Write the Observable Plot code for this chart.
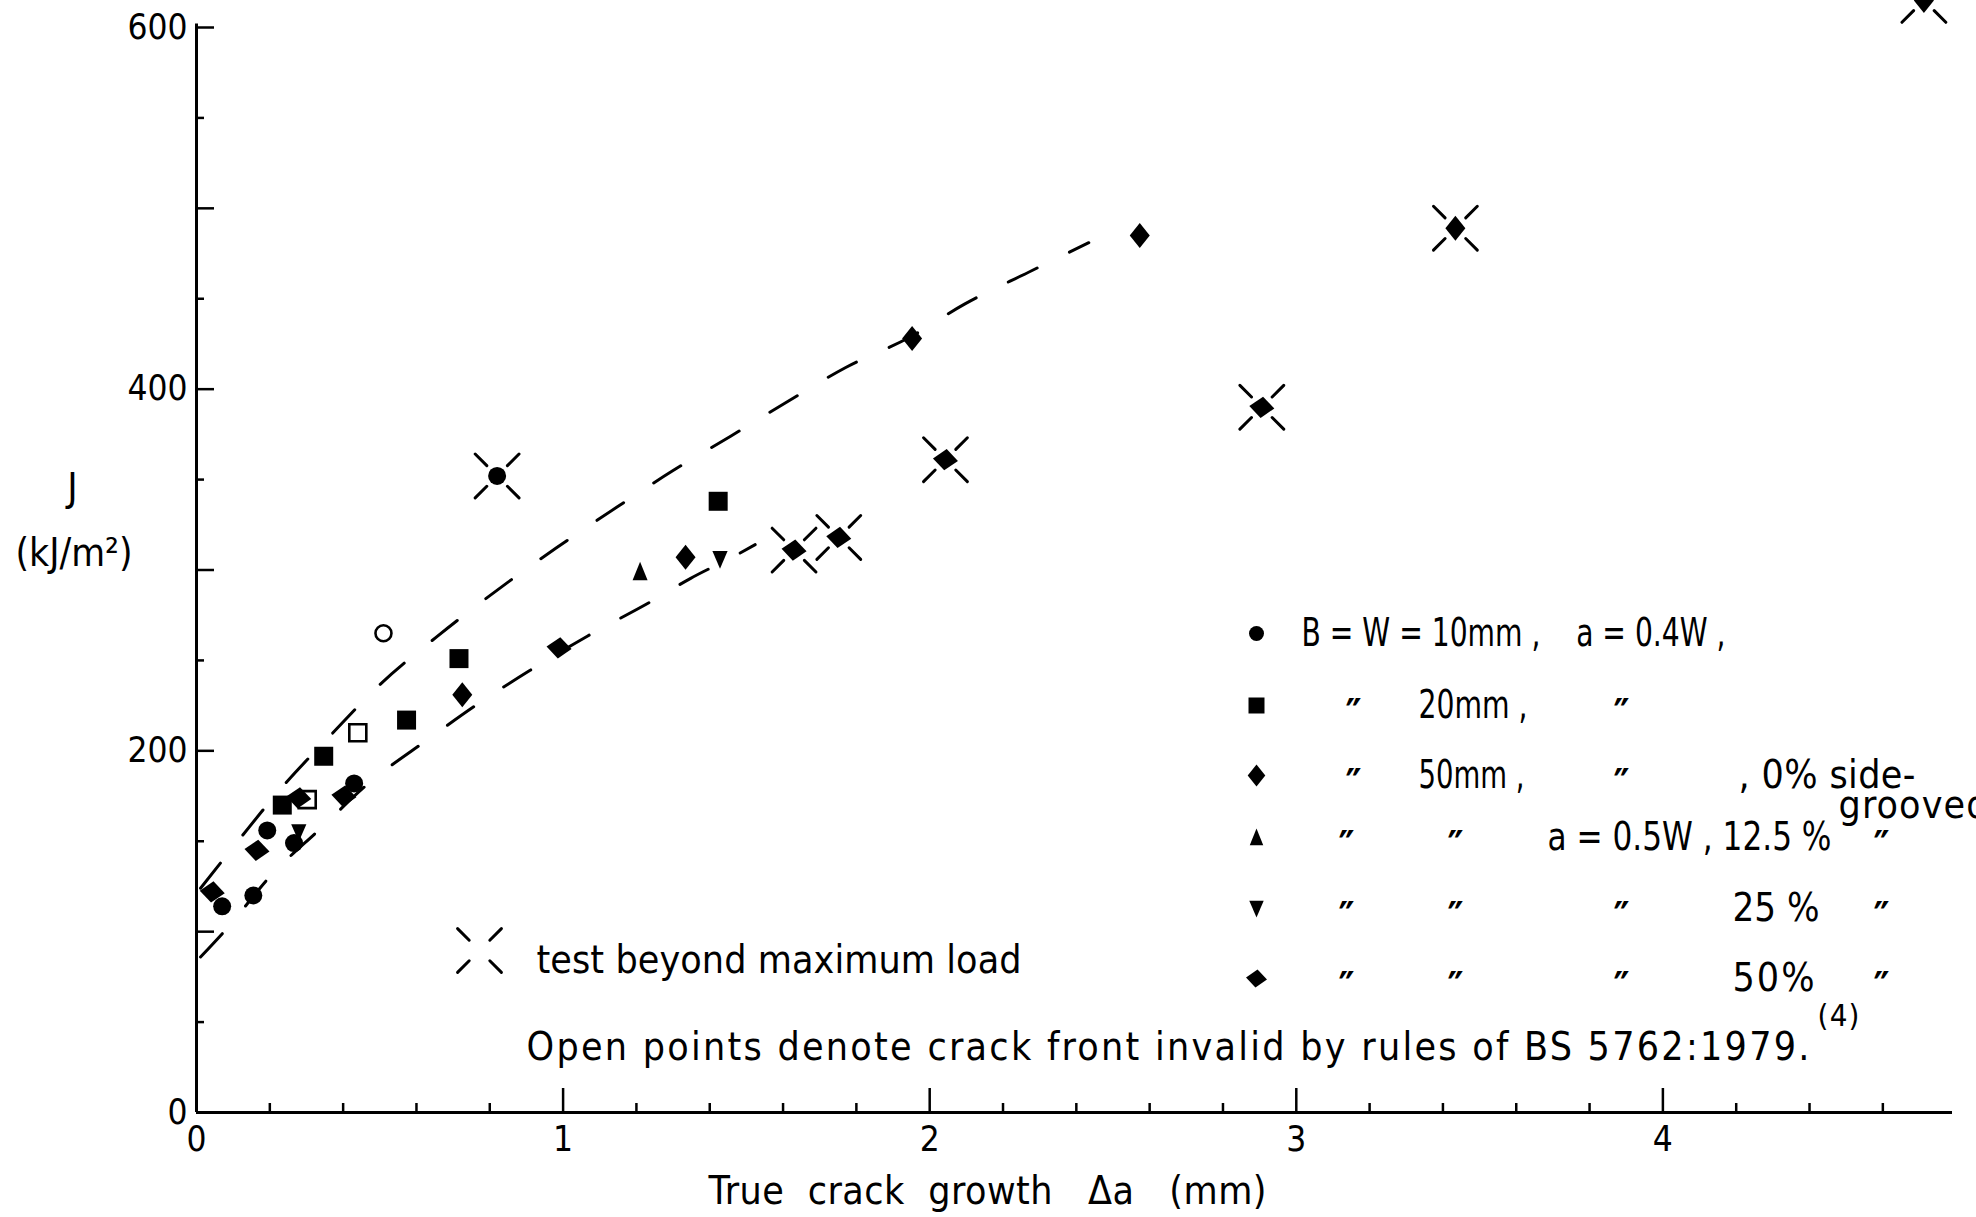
<!DOCTYPE html>
<html>
<head>
<meta charset="utf-8">
<script src="https://cdn.jsdelivr.net/npm/d3@7"></script>
<script src="https://cdn.jsdelivr.net/npm/@observablehq/plot@0.6"></script>
<style>
  html, body { margin: 0; padding: 0; background: #fff; }
  #chart { width: 1976px; height: 1217px; overflow: hidden; }
  #chart svg { display: block; }
  #chart text { white-space: pre; }
</style>
</head>
<body>
<div id="chart"></div>
<script>
// ---------------- data ----------------
// each point: [Δa (mm), J (kJ/m²)]
const xTickValues = [0, 1, 2, 3, 4];
const yTickValues = [0, 200, 400, 600];
const xMinorTicks = [0.2, 0.4, 0.6, 0.8, 1.2, 1.4, 1.6, 1.8, 2.2, 2.4, 2.6, 2.8, 3.2, 3.4, 3.6, 3.8, 4.2, 4.4, 4.6];
const yMinorTicks = [50, 150, 250, 350, 450, 550];
const yMidTicks = [100, 200, 300, 400, 500, 600];

const b10Filled = [[0.070, 114], [0.155, 120], [0.193, 156], [0.266, 149], [0.430, 182], [0.820, 352]];
const b10Open = [[0.510, 265]];
const b20Filled = [[0.234, 170], [0.347, 197], [0.573, 217], [0.716, 251], [1.423, 338]];
const b20Open = [[0.302, 173], [0.440, 210]];
const b50Groove0 = [[0.725, 231], [1.334, 307], [1.952, 428], [2.573, 485], [3.434, 489], [4.712, 615]];
const b50Groove125 = [[1.210, 299]];
const b50Groove25 = [[0.279, 155], [1.428, 306]];
const b50Groove50 = [[0.043, 122], [0.165, 145], [0.279, 174], [0.402, 175], [0.989, 257], [1.630, 311], [1.752, 318], [2.043, 361], [2.906, 390]];
const beyondMaxLoad = [[0.820, 352], [1.630, 311], [1.752, 318], [2.043, 361], [2.906, 390], [3.434, 489], [4.712, 615]];

const upperBound = [[0.011, 124], [0.097, 146], [0.234, 180], [0.370, 209.5], [0.497, 236], [0.655, 263], [0.848, 293], [0.980, 312], [1.145, 334.5], [1.300, 355], [1.457, 374], [1.607, 392.5], [1.771, 412], [1.948, 429], [2.095, 447], [2.278, 465.5], [2.434, 481]];
const lowerBound = [[0.011, 86], [0.084, 102], [0.200, 130.4], [0.338, 157], [0.475, 183], [0.629, 206], [0.768, 226], [0.909, 244.4], [1.066, 263.4], [1.240, 282.6], [1.348, 295.4], [1.470, 308], [1.524, 314]];

const legendLabels = [
  "B = W = 10mm ,    a = 0.4W ,", "20mm ,", "50mm ,", ", 0% side-", "grooved",
  "a = 0.5W , 12.5 %", "25 %", "50%"
];
const dittoMark = "″";
const crossLabel = "test beyond maximum load";
const noteLabel = "Open points denote crack front invalid by rules of BS 5762:1979.";
const noteRef = "(4)";
const yLabelTop = "J";
const yLabelUnit = "(kJ/m²)";
const xLabel = "True  crack  growth   Δa   (mm)";

// ---------------- layout ----------------
const W = 1976, H = 1217, ML = 196, MR = 24, MT = 27, MB = 105;
const XMAX = 4.79, YMAX = 600;
const FONT = "'Liberation Sans Narrow', 'DejaVu Sans Condensed', 'Arial Narrow', sans-serif";
const FS = 39;
const PW = W - ML - MR, PH = H - MT - MB;
const X = px => (px - ML) / PW * XMAX;   // pixel → data, for annotation placement
const Y = py => (H - MB - py) / PH * YMAX;

// symbols
const sym = f => ({draw(ctx, size) { const r = Math.sqrt(size / Math.PI); f(ctx, r); }});
const squareSym = sym((c, r) => { c.moveTo(-r, -r); c.lineTo(r, -r); c.lineTo(r, r); c.lineTo(-r, r); c.closePath(); });
const tallDiamond = sym((c, r) => { c.moveTo(0, -r); c.lineTo(0.8 * r, 0); c.lineTo(0, r); c.lineTo(-0.8 * r, 0); c.closePath(); });
const wideDiamond = sym((c, r) => { c.moveTo(-r, -0.1 * r); c.lineTo(0.1 * r, -0.85 * r); c.lineTo(r, 0.1 * r); c.lineTo(-0.1 * r, 0.85 * r); c.closePath(); });
const triUp = sym((c, r) => { c.moveTo(0, -r); c.lineTo(0.75 * r, 0.85 * r); c.lineTo(-0.75 * r, 0.85 * r); c.closePath(); });
const triDown = sym((c, r) => { c.moveTo(-0.8 * r, -0.85 * r); c.lineTo(0.8 * r, -0.85 * r); c.lineTo(0, r); c.closePath(); });
const brokenX = sym((c, r) => {
  const a = 0.47 * r / Math.SQRT2, b = r / Math.SQRT2;
  for (const [sx, sy] of [[1, 1], [1, -1], [-1, 1], [-1, -1]]) { c.moveTo(sx * a, sy * a); c.lineTo(sx * b, sy * b); }
});

const P = {x: d => d[0], y: d => d[1]};
const series = [
  {data: b10Filled, symbol: "circle", r: 9, fill: "black"},
  {data: b10Open, symbol: "circle", r: 8, fill: "white", stroke: "black", strokeWidth: 2.6},
  {data: b20Filled, symbol: squareSym, r: 9.5, fill: "black"},
  {data: b20Open, symbol: squareSym, r: 8.5, fill: "white", stroke: "black", strokeWidth: 2.6},
  {data: b50Groove0, symbol: tallDiamond, r: 12.5, fill: "black"},
  {data: b50Groove125, symbol: triUp, r: 10, fill: "black"},
  {data: b50Groove25, symbol: triDown, r: 9.5, fill: "black"},
  {data: b50Groove50, symbol: wideDiamond, r: 12.5, fill: "black"}
];

const legendSymbols = [
  {symbol: "circle", r: 7.5}, {symbol: squareSym, r: 8}, {symbol: tallDiamond, r: 11},
  {symbol: triUp, r: 9}, {symbol: triDown, r: 9}, {symbol: wideDiamond, r: 10.5}
];
const legendRowsY = [633, 705, 775, 837, 908, 978];
const labelPlacement = [
  [1301, 633, 424], [1418, 705, 109], [1418, 775, 106], [1738, 775, 177],
  [1838, 805, 150], [1547, 837, 284], [1732, 908, 87], [1732, 978, 82]
];
const dittoPlacement = [[1353, 705], [1621, 705], [1353, 775], [1621, 775], [1346, 837], [1455, 837], [1881, 837],
  [1346, 908], [1455, 908], [1621, 908], [1881, 908], [1346, 978], [1455, 978], [1621, 978], [1881, 978]];

const textWidths = new Map();
legendLabels.forEach((t, i) => textWidths.set(t, labelPlacement[i][2]));
textWidths.set(crossLabel, 485);
textWidths.set(noteLabel, 1283);
textWidths.set(yLabelUnit, 117);
textWidths.set(xLabel, 558);
textWidths.set(noteRef, 42);

const txt = (data, opts) => Plot.text(data, {fontFamily: FONT, fontSize: FS, fill: "black", lineAnchor: "middle", ...opts});

const marks = [
  // axes lines and ticks
  Plot.ruleX([0], {y1: 0, y2: 602, strokeWidth: 3}),
  Plot.ruleY([0], {x1: 0, x2: XMAX, strokeWidth: 3}),
  Plot.tickY(yMinorTicks, {y: d => d, insetRight: PW - 8, strokeWidth: 2.5}),
  Plot.tickY(yMidTicks, {y: d => d, insetRight: PW - 18, strokeWidth: 2.5}),
  Plot.tickX(xMinorTicks, {x: d => d, insetTop: PH - 9, strokeWidth: 2.5}),
  Plot.tickX(xTickValues.slice(1), {x: d => d, insetTop: PH - 24, strokeWidth: 2.5}),
  Plot.axisY(yTickValues, {tickSize: 0, tickPadding: 9, fontSize: 35, fontFamily: FONT, fill: "black", tickFormat: d => String(d)}),
  Plot.axisX(xTickValues, {tickSize: 0, tickPadding: 14, fontSize: 35, fontFamily: FONT, fill: "black", tickFormat: d => String(d)}),
  // dashed bounds
  Plot.line(upperBound, {...P, curve: "monotone-x", stroke: "black", strokeWidth: 3, strokeDasharray: "32,36", strokeLinecap: "round"}),
  Plot.line(lowerBound, {...P, curve: "monotone-x", stroke: "black", strokeWidth: 3, strokeDasharray: "32,36", strokeLinecap: "round"}),
  // data points
  ...series.map(s => Plot.dot(s.data, {...P, symbol: s.symbol, r: s.r, fill: s.fill, stroke: s.stroke ?? "none", strokeWidth: s.strokeWidth ?? 1})),
  Plot.dot(beyondMaxLoad, {...P, symbol: brokenX, r: 31, fill: "none", stroke: "black", strokeWidth: 3, strokeLinecap: "round"}),
  // legend symbols
  ...legendSymbols.map((s, i) => Plot.dot([legendRowsY[i]], {x: () => X(1256), y: d => Y(d), symbol: s.symbol, r: s.r, fill: "black", stroke: "none"})),
  Plot.dot([0], {x: () => X(479), y: () => Y(950), symbol: brokenX, r: 31, fill: "none", stroke: "black", strokeWidth: 3, strokeLinecap: "round"}),
  // legend texts
  txt(legendLabels, {x: (d, i) => X(labelPlacement[i][0]), y: (d, i) => Y(labelPlacement[i][1]), text: d => d, textAnchor: "start"}),
  txt(dittoPlacement, {x: d => X(d[0]), y: d => Y(d[1] + 10), text: () => dittoMark, textAnchor: "middle", fontSize: 40, fontWeight: "bold"}),
  txt([crossLabel], {x: () => X(536), y: () => Y(960), text: d => d, textAnchor: "start"}),
  txt([noteLabel], {x: () => X(526), y: () => Y(1047), text: d => d, textAnchor: "start"}),
  txt([noteRef], {x: () => X(1817), y: () => Y(1016), text: d => d, textAnchor: "start", fontSize: 31}),
  // axis titles
  txt([yLabelTop], {x: () => X(72), y: () => Y(488), text: d => d, textAnchor: "middle"}),
  txt([yLabelUnit], {x: () => X(15), y: () => Y(553), text: d => d, textAnchor: "start"}),
  txt([xLabel], {x: () => X(708), y: () => Y(1191), text: d => d, textAnchor: "start"})
];

const svg = Plot.plot({
  width: W, height: H,
  marginLeft: ML, marginRight: MR, marginTop: MT, marginBottom: MB,
  x: {domain: [0, XMAX], axis: null},
  y: {domain: [0, YMAX], axis: null},
  style: {background: "white", fontFamily: FONT, overflow: "hidden"},
  marks
});
document.getElementById("chart").appendChild(svg);

// fit annotation texts to the widths they take in the figure
svg.querySelectorAll("text").forEach(t => {
  const w = textWidths.get(t.textContent);
  if (!w) return;
  const natural = t.getComputedTextLength();
  t.setAttribute("textLength", w);
  t.setAttribute("lengthAdjust", natural > w ? "spacingAndGlyphs" : "spacing");
});
</script>
</body>
</html>
